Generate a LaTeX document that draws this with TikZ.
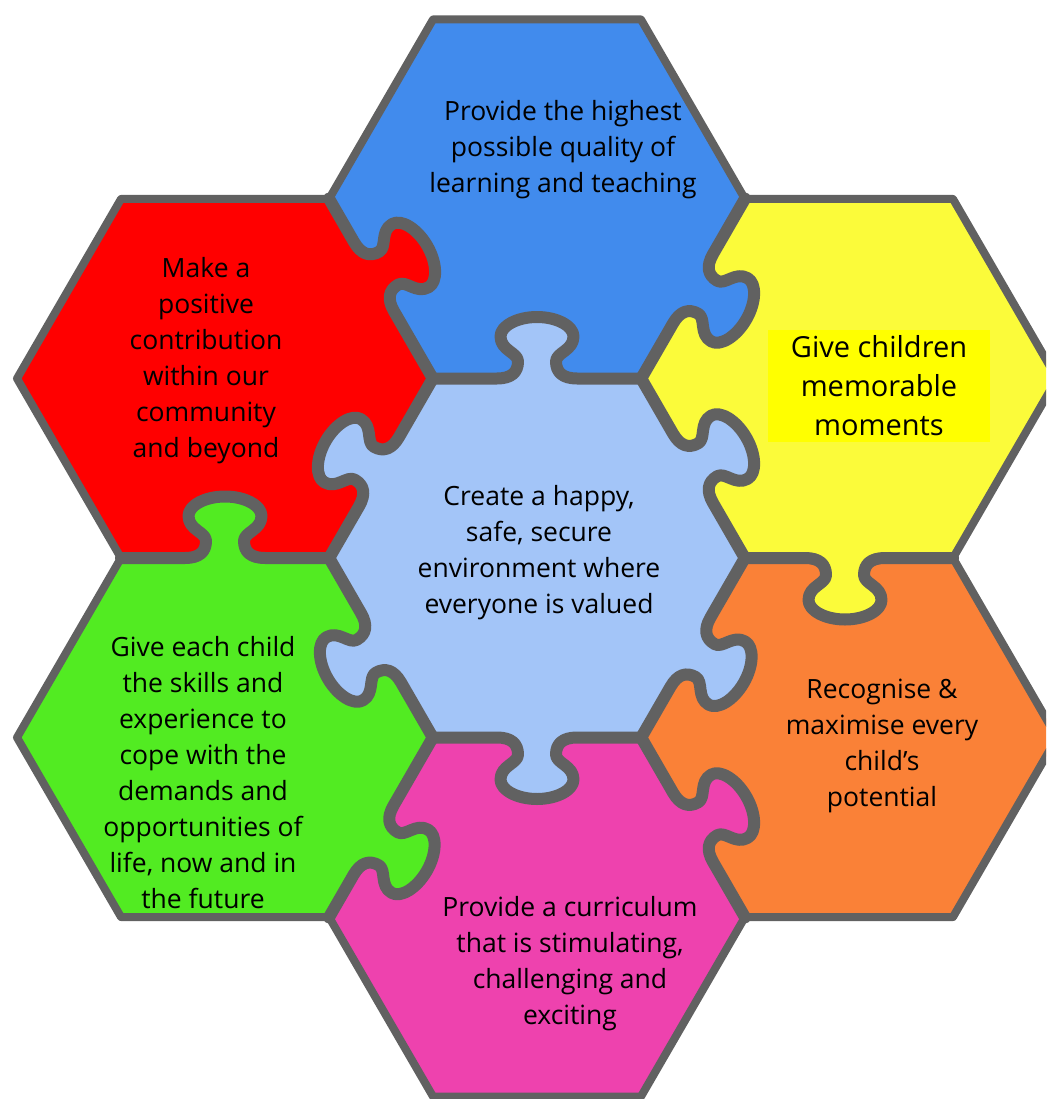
\documentclass[tikz,border=0pt]{standalone}
\usepackage{fontspec}
\setmainfont{Open Sans}
\definecolor{bord}{HTML}{616161}
\definecolor{cblue}{HTML}{418BED}
\definecolor{cred}{HTML}{FF0000}
\definecolor{cyel}{HTML}{FBFB3A}
\definecolor{ybox}{HTML}{FFFF00}
\definecolor{clb}{HTML}{A3C5F8}
\definecolor{cgrn}{HTML}{52EB22}
\definecolor{corg}{HTML}{FA8137}
\definecolor{cpink}{HTML}{EE42AE}
\tikzset{
  shared/.style={draw=bord, line width=12pt, line cap=round, line join=round},
  outeredge/.style={draw=bord, line width=8pt, line cap=round, line join=round},
  lbl/.style={align=center, font=\fontsize{26.5}{36}\selectfont, text=black, inner sep=0pt},
}
\newcommand\hexpiece[4]{%
  \coordinate (#10) at (#2+208,#3);
  \coordinate (#11) at (#2+104,#3-179.5);
  \coordinate (#12) at (#2-104,#3-179.5);
  \coordinate (#13) at (#2-208,#3);
  \coordinate (#14) at (#2-104,#3+179.5);
  \coordinate (#15) at (#2+104,#3+179.5);
  \fill[#4] (#10) -- (#11) -- (#12) -- (#13) -- (#14) -- (#15) -- cycle;}
\newcommand\knobpath[1]{%
  .. controls (#1-26,0) and (#1-19,6) .. (#1-19,17)
  .. controls (#1-19,26) and (#1-36.5,28) .. (#1-36.5,42)
  .. controls (#1-36.5,52.5) and (#1-20,61.5) .. (#1,61.5)
  .. controls (#1+20,61.5) and (#1+36.5,52.5) .. (#1+36.5,42)
  .. controls (#1+36.5,28) and (#1+19,26) .. (#1+19,17)
  .. controls (#1+19,6) and (#1+26,0) .. (#1+40,0)}
\newcommand\knob[5]{%
  \begin{scope}[shift={(#1,#2)}, rotate=#3-90, yscale=-1]
    \fill[#5] (#4-40,-9) -- (#4-40,0) \knobpath{#4} -- (#4+40,-9) -- cycle;
    \draw[shared] (-104,0) -- (#4-40,0) \knobpath{#4} -- (104,0);
  \end{scope}}
\begin{document}
\begin{tikzpicture}[x=1pt,y=-1pt]
\useasboundingbox (0,0) rectangle (1046,1099);
\clip (0,0) rectangle (1046,1099);
% pieces
\hexpiece{B}{537}{199}{cblue}
\hexpiece{R}{225}{378.5}{cred}
\hexpiece{Y}{849}{378.5}{cyel}
\hexpiece{C}{537}{558}{clb}
\hexpiece{G}{225}{737.5}{cgrn}
\hexpiece{O}{849}{737.5}{corg}
\hexpiece{P}{537}{917}{cpink}
% jigsaw tabs on the shared edges
\knob{381}{288.75}{30}{-14}{cred}
\knob{693}{288.75}{330}{0}{cblue}
\knob{537}{378.5}{90}{0}{clb}
\knob{381}{468.25}{150}{-4}{clb}
\knob{693}{468.25}{30}{0}{clb}
\knob{225}{558}{90}{0}{cgrn}
\knob{849}{558}{270}{4}{cyel}
\knob{381}{647.75}{210}{0}{clb}
\knob{693}{647.75}{330}{5}{clb}
\knob{537}{737.5}{270}{0}{clb}
\knob{381}{827.25}{330}{15}{cgrn}
\knob{693}{827.25}{30}{0}{cpink}
% outer edges
\draw[outeredge] (B0) -- (B1) -- (B2) -- (B3);
\draw[outeredge] (R1) -- (R2) -- (R3) -- (R4);
\draw[outeredge] (Y5) -- (Y0) -- (Y1) -- (Y2);
\draw[outeredge] (G2) -- (G3) -- (G4) -- (G5);
\draw[outeredge] (O4) -- (O5) -- (O0) -- (O1);
\draw[outeredge] (P3) -- (P4) -- (P5) -- (P0);
% texts
\node[lbl] (tb) at (563,150) {Provide the highest\\possible quality of\\learning and teaching};
\node[lbl] (tr) at (206,361) {Make a\\positive\\contribution\\within our\\community\\and beyond};
\node[lbl, fill=ybox, minimum width=222pt, minimum height=112pt, font=\fontsize{29}{39}\selectfont] (ty) at (879,386) {Give children\\memorable\\moments};
\node[lbl] (tc) at (539,553) {Create a happy,\\safe, secure\\environment where\\everyone is valued};
\node[lbl] (tg) at (203,773) {Give each child\\the skills and\\experience to\\cope with the\\demands and\\opportunities of\\life, now and in\\the future};
\node[lbl] (to) at (882,746) {Recognise \&\\maximise every\\child’s\\potential};
\node[lbl] (tp) at (570,964) {Provide a curriculum\\that is stimulating,\\challenging and\\exciting};
\end{tikzpicture}
\end{document}
